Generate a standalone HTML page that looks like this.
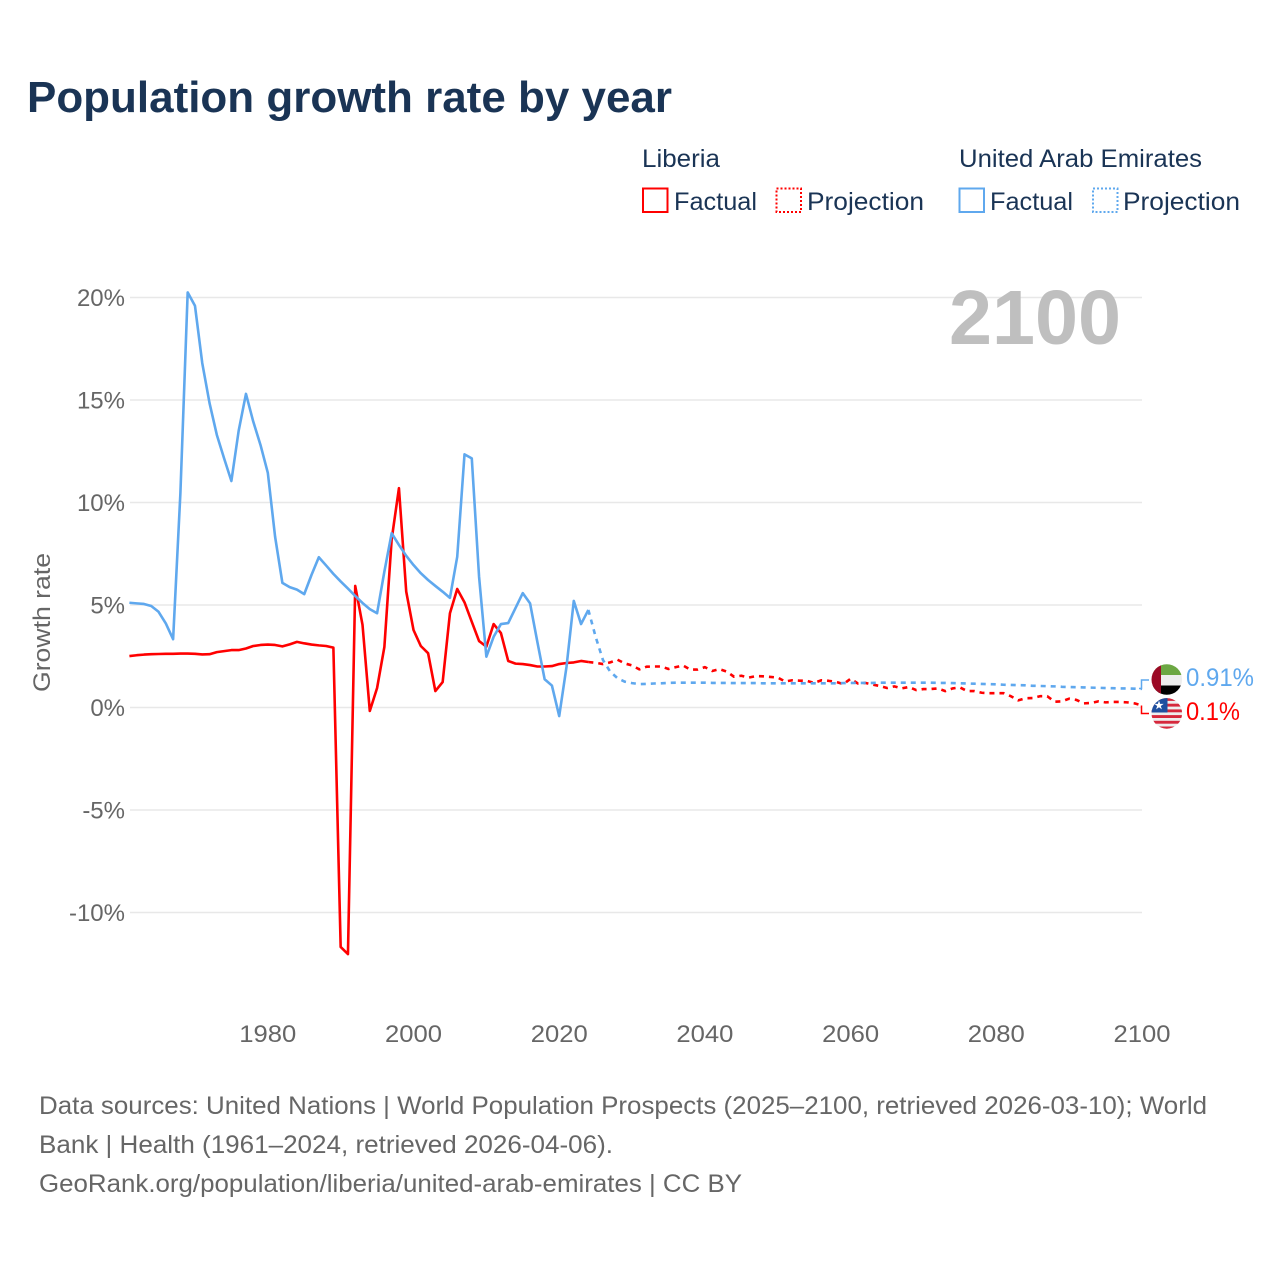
<!DOCTYPE html>
<html lang="en">
<head>
<meta charset="utf-8">
<title>Population growth rate by year</title>
<style>
  html, body { margin: 0; padding: 0; background: #fff; }
  svg { display: block; font-family: "Liberation Sans", sans-serif; }
</style>
</head>
<body>
<svg id="chart" xmlns="http://www.w3.org/2000/svg" width="1280" height="1280" viewBox="0 0 1280 1280">
  <defs>
    <clipPath id="clip-uae"><circle cx="1166.8" cy="679.5" r="15.3"/></clipPath>
    <clipPath id="clip-lib"><circle cx="1166.8" cy="713.4" r="15.3"/></clipPath>
  </defs>
  <rect x="0" y="0" width="1280" height="1280" fill="#fff"/>
  <text x="27" y="112" font-size="44" font-weight="700" fill="#1a3455" textLength="645" lengthAdjust="spacingAndGlyphs">Population growth rate by year</text>

  <g font-size="25" fill="#1a3455">
    <text x="642" y="167" textLength="78" lengthAdjust="spacingAndGlyphs">Liberia</text>
    <text x="959" y="167" textLength="243" lengthAdjust="spacingAndGlyphs">United Arab Emirates</text>
    <rect x="643" y="188.5" width="24.5" height="23.5" fill="none" stroke="#ff0000" stroke-width="2"/>
    <text x="674" y="210" textLength="83" lengthAdjust="spacingAndGlyphs">Factual</text>
    <rect x="776.5" y="188.5" width="24.5" height="23.5" fill="none" stroke="#ff0000" stroke-width="2" stroke-dasharray="2 2"/>
    <text x="807" y="210" textLength="117" lengthAdjust="spacingAndGlyphs">Projection</text>
    <rect x="959.5" y="188.5" width="24.5" height="23.5" fill="none" stroke="#5fa8ee" stroke-width="2"/>
    <text x="990" y="210" textLength="83" lengthAdjust="spacingAndGlyphs">Factual</text>
    <rect x="1093" y="188.5" width="24.5" height="23.5" fill="none" stroke="#5fa8ee" stroke-width="2" stroke-dasharray="2 2"/>
    <text x="1123" y="210" textLength="117" lengthAdjust="spacingAndGlyphs">Projection</text>
  </g>

  <g id="grid"></g>
  <text x="1121" y="344" font-size="77" font-weight="700" fill="#bfbfbf" text-anchor="end" textLength="172" lengthAdjust="spacingAndGlyphs">2100</text>
  <g id="y-ticks" font-size="24" fill="#666666" text-anchor="end"></g>
  <g id="x-ticks" font-size="24" fill="#666666" text-anchor="middle"></g>
  <text x="0" y="0" transform="translate(50 622.5) rotate(-90)" font-size="24" fill="#666666" text-anchor="middle" textLength="139" lengthAdjust="spacingAndGlyphs">Growth rate</text>
  <g id="series" fill="none" stroke-width="2.6" stroke-linejoin="round"></g>

  <path d="M1139 688.5H1141.5V680H1149" fill="none" stroke="#5fa8ee" stroke-width="1.5"/>
  <path d="M1141.5 705.5V713.5H1149" fill="none" stroke="#ff0000" stroke-width="1.5"/>

  <g clip-path="url(#clip-uae)">
    <rect x="1150" y="664" width="34" height="11" fill="#6ca743"/>
    <rect x="1150" y="675" width="34" height="10.5" fill="#eeeeee"/>
    <rect x="1150" y="685.5" width="34" height="11" fill="#000000"/>
    <rect x="1150" y="664" width="11" height="32" fill="#9b0a25"/>
  </g>
  <g clip-path="url(#clip-lib)">
    <rect x="1150" y="698" width="34" height="32" fill="#eeeeee"/>
    <rect x="1150" y="698" width="34" height="2.9" fill="#d6283c"/>
    <rect x="1150" y="703.7" width="34" height="2.9" fill="#d6283c"/>
    <rect x="1150" y="709.4" width="34" height="2.9" fill="#d6283c"/>
    <rect x="1150" y="715.1" width="34" height="2.9" fill="#d6283c"/>
    <rect x="1150" y="720.8" width="34" height="2.9" fill="#d6283c"/>
    <rect x="1150" y="726.5" width="34" height="2.9" fill="#d6283c"/>
    <rect x="1150" y="698" width="17.5" height="14.5" fill="#1f4f9f"/>
    <polygon points="1159,700.5 1160.1,703.9 1163.7,703.9 1160.8,706 1161.9,709.4 1159,707.3 1156.1,709.4 1157.2,706 1154.3,703.9 1157.9,703.9" fill="#ffffff"/>
  </g>
  <text x="1186" y="686" font-size="25" fill="#5fa8ee" textLength="68" lengthAdjust="spacingAndGlyphs">0.91%</text>
  <text x="1186" y="720" font-size="25" fill="#ff0000" textLength="54" lengthAdjust="spacingAndGlyphs">0.1%</text>

  <g font-size="25" fill="#666666">
    <text x="39" y="1114" textLength="1168" lengthAdjust="spacingAndGlyphs">Data sources: United Nations | World Population Prospects (2025–2100, retrieved 2026-03-10); World</text>
    <text x="39" y="1153" textLength="574" lengthAdjust="spacingAndGlyphs">Bank | Health (1961–2024, retrieved 2026-04-06).</text>
    <text x="39" y="1192" textLength="703" lengthAdjust="spacingAndGlyphs">GeoRank.org/population/liberia/united-arab-emirates | CC BY</text>
  </g>
</svg>

<script>
const factualStartYear = 1961;
const projectionStartYear = 2024;

const liberiaFactual = [
  2.51, 2.55, 2.58, 2.60, 2.61, 2.62, 2.62, 2.63, 2.63, 2.62,
  2.59, 2.60, 2.70, 2.75, 2.80, 2.80, 2.88, 3.00, 3.05, 3.07,
  3.05, 2.98, 3.08, 3.20, 3.13, 3.07, 3.03, 3.00, 2.92, -11.68,
  -12.03, 5.93, 4.03, -0.17, 0.95, 2.95, 8.20, 10.70, 5.65, 3.78,
  3.00, 2.65, 0.80, 1.24, 4.60, 5.78, 5.13, 4.18, 3.24, 2.97,
  4.07, 3.63, 2.27, 2.14, 2.12, 2.07, 2.00, 2.00, 2.02, 2.12,
  2.17, 2.20, 2.27, 2.22
];
const uaeFactual = [
  5.11, 5.08, 5.05, 4.95, 4.67, 4.10, 3.33, 10.45, 20.25, 19.60,
  16.80, 14.85, 13.30, 12.15, 11.05, 13.50, 15.30, 13.95, 12.80, 11.45,
  8.33, 6.08, 5.87, 5.75, 5.53, 6.47, 7.33, 6.93, 6.52, 6.15,
  5.80, 5.44, 5.10, 4.80, 4.60, 6.63, 8.50, 7.93, 7.40, 6.95,
  6.55, 6.22, 5.93, 5.65, 5.35, 7.35, 12.35, 12.15, 6.38, 2.48,
  3.45, 4.07, 4.12, 4.85, 5.58, 5.08, 3.20, 1.38, 1.07, -0.42,
  1.98, 5.20, 4.07, 4.76
];
const liberiaProjection = [
  2.22,
  2.18, 2.12, 2.20, 2.33, 2.15, 2.05, 1.86, 1.99, 2.00, 2.00,
  1.88, 1.97, 2.05, 1.85, 1.85, 1.97, 1.78, 1.87, 1.75, 1.50,
  1.55, 1.46, 1.53, 1.52, 1.49, 1.46, 1.27, 1.33, 1.31, 1.30,
  1.20, 1.33, 1.30, 1.25, 1.14, 1.40, 1.17, 1.20, 1.12, 1.05,
  0.95, 1.03, 0.93, 1.00, 0.85, 0.90, 0.90, 0.93, 0.80, 0.93,
  0.98, 0.80, 0.80, 0.72, 0.70, 0.70, 0.70, 0.55, 0.35, 0.45,
  0.46, 0.55, 0.55, 0.28, 0.30, 0.43, 0.37, 0.20, 0.22, 0.30,
  0.25, 0.27, 0.27, 0.25, 0.20, 0.10
];
const uaeProjection = [
  4.76,
  3.45, 2.32, 1.75, 1.43, 1.26, 1.19, 1.14, 1.15, 1.17, 1.18,
  1.20, 1.21, 1.21, 1.21, 1.21, 1.21, 1.20, 1.20, 1.20, 1.19,
  1.19, 1.19, 1.19, 1.18, 1.18, 1.18, 1.18, 1.18, 1.18, 1.18,
  1.18, 1.18, 1.18, 1.18, 1.19, 1.20, 1.20, 1.20, 1.20, 1.21,
  1.21, 1.21, 1.21, 1.21, 1.21, 1.21, 1.21, 1.20, 1.20, 1.19,
  1.18, 1.17, 1.16, 1.15, 1.14, 1.13, 1.11, 1.10, 1.09, 1.08,
  1.06, 1.05, 1.04, 1.03, 1.01, 1.00, 0.99, 0.98, 0.97, 0.96,
  0.95, 0.94, 0.93, 0.93, 0.92, 0.91
];
const yTickValues = [-10, -5, 0, 5, 10, 15, 20];
const yTickLabels = ["-10%", "-5%", "0%", "5%", "10%", "15%", "20%"];
const xTickValues = [1980, 2000, 2020, 2040, 2060, 2080, 2100];
const xTickLabels = ["1980", "2000", "2020", "2040", "2060", "2080", "2100"];

const SVG_NS = "http://www.w3.org/2000/svg";
const PLOT_LEFT = 130;
const PLOT_RIGHT = 1142;

function xScale(year) {
  return 129.4 + (year - 1961) * (PLOT_RIGHT - 129.4) / 139;
}
function yScale(value) {
  return 707.5 - value * 20.5;
}
function linePath(values, startYear) {
  return values.map(function (v, i) {
    return (i ? "L" : "M") + xScale(startYear + i).toFixed(2) + " " + yScale(v).toFixed(2);
  }).join("");
}

const gridGroup = document.getElementById("grid");
const yTickGroup = document.getElementById("y-ticks");
const xTickGroup = document.getElementById("x-ticks");
const seriesGroup = document.getElementById("series");

yTickValues.forEach(function (value, i) {
  const gridLine = document.createElementNS(SVG_NS, "line");
  
  
  gridLine.setAttribute("x1", PLOT_LEFT);
  gridLine.setAttribute("x2", PLOT_RIGHT);
  gridLine.setAttribute("y1", yScale(value));
  gridLine.setAttribute("y2", yScale(value));
  gridLine.setAttribute("stroke", "#e8e8e8");
  gridLine.setAttribute("stroke-width", "1.5");
  gridGroup.appendChild(gridLine);

  const label = document.createElementNS(SVG_NS, "text");
  
  
  label.setAttribute("x", 125);
  label.setAttribute("y", yScale(value) + 8.5);
  label.textContent = yTickLabels[i];
  yTickGroup.appendChild(label);
});

xTickValues.forEach(function (year, i) {
  const label = document.createElementNS(SVG_NS, "text");
  
  
  label.setAttribute("x", xScale(year));
  label.setAttribute("y", 1042);
  label.setAttribute("textLength", "57");
  label.setAttribute("lengthAdjust", "spacingAndGlyphs");
  label.textContent = xTickLabels[i];
  xTickGroup.appendChild(label);
});

function addLine(values, startYear, color, dash, name) {
  const path = document.createElementNS(SVG_NS, "path");
  
  
  path.setAttribute("d", linePath(values, startYear));
  path.setAttribute("stroke", color);
  if (dash) path.setAttribute("stroke-dasharray", dash);
  seriesGroup.appendChild(path);
}

addLine(liberiaProjection, projectionStartYear, "#ff0000", "5 5", "liberia-projection-line");
addLine(liberiaFactual, factualStartYear, "#ff0000", null, "liberia-factual-line");
addLine(uaeProjection, projectionStartYear, "#5fa8ee", "5 5", "uae-projection-line");
addLine(uaeFactual, factualStartYear, "#5fa8ee", null, "uae-factual-line");
</script>
</body>
</html>
